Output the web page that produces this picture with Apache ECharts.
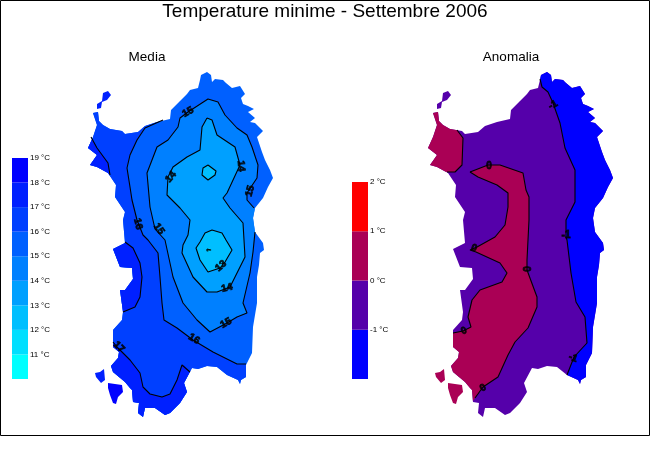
<!DOCTYPE html>
<html>
<head>
<meta charset="utf-8">
<script src="https://cdn.jsdelivr.net/npm/echarts@6/dist/echarts.min.js"></script>
<style>
html, body { margin: 0; padding: 0; background: #fff; }
#chart { width: 650px; height: 450px; }
</style>
</head>
<body>
<div id="chart"></div>
<script>
// legend classes
var tempLevels = [10, 11, 12, 13, 14, 15, 16, 17, 18, 19];
var tempColors = ['#00FFFF', '#00DFFF', '#00BFFF', '#00A0FF', '#0080FF', '#0060FF', '#0040FF', '#0020FF', '#0000FF'];
var anomLevels = [-2, -1, 0, 1, 2];
var anomColors = ['#0000FF', '#5500AA', '#AA0055', '#FF0000'];

// coast, map units
var coast = [[190,90],[198,88],[200,80],[201,75],[207,72],[211,75],[212,82],[215,79],[223,80],[226,83],[232,88],[240,86],[245,94],[241,98],[243,104],[248,106],[254,109],[248,112],[255,118],[250,122],[255,123],[263,131],[257,137],[262,152],[265,160],[270,170],[273,178],[268,187],[263,198],[255,208],[253,218],[255,232],[263,243],[264,250],[260,253],[259,265],[257,277],[257,303],[255,315],[253,327],[252,353],[246,365],[246,377],[241,380],[240,384],[238,380],[227,375],[217,367],[207,366],[198,369],[192,368],[184,383],[187,392],[180,403],[170,413],[165,415],[155,408],[145,408],[143,417],[138,413],[139,403],[133,402],[132,390],[130,388],[125,382],[113,372],[111,366],[118,358],[119,352],[113,347],[113,330],[122,320],[123,312],[120,290],[125,290],[133,279],[132,268],[120,267],[113,249],[125,243],[123,220],[125,212],[115,197],[116,185],[108,173],[97,167],[90,165],[97,155],[88,148],[93,137],[97,125],[93,113],[98,112],[99,121],[103,125],[110,129],[122,131],[125,134],[138,132],[145,126],[157,122],[170,119],[171,110],[180,101],[187,94]];
var asinara = [[103,93],[108,91],[111,95],[107,100],[102,102],[101,108],[97,109],[97,104],[102,101]];
var sanPietro = [[95,373],[100,372],[104,369],[105,380],[101,383],[96,377]];
var santAntioco = [[108,383],[122,385],[123,392],[118,397],[116,404],[113,403],[110,395],[108,388]];

// contours of the mean
var line16 = [[163,120],[145,128],[137,140],[130,155],[127,168],[130,187],[132,200],[137,220],[143,235],[148,240],[158,253],[160,277],[162,303],[164,320],[177,328],[193,340],[213,352],[237,364],[246,364]];
var line17nw = [[91,137],[97,148],[108,163],[110,175]];
var line17west = [[125,242],[133,248],[140,263],[142,277],[140,297],[135,307],[123,312]];
var line17south = [[113,342],[118,348],[130,360],[140,373],[143,387],[150,394],[162,397],[170,394],[177,380],[182,365],[184,365],[190,372]];
var line15 = [[254,208],[247,200],[247,193],[257,178],[258,165],[252,147],[247,135],[237,128],[225,115],[218,102],[208,99],[188,112],[180,118],[178,127],[168,140],[157,147],[147,173],[150,207],[155,229],[165,240],[173,277],[183,303],[197,320],[210,332],[227,323],[237,317],[247,313],[243,303],[250,273],[253,252],[255,232]];
var line14 = [[207,118],[212,120],[217,135],[235,147],[240,165],[227,193],[223,198],[230,208],[243,223],[244,240],[245,257],[230,287],[217,292],[207,292],[193,277],[182,253],[183,245],[188,235],[190,220],[180,208],[167,195],[168,177],[173,167],[187,157],[200,150],[202,127],[207,118]];
var line13north = [[208,165],[216,171],[215,175],[208,180],[202,175],[203,168],[208,165]];
var line13south = [[226,240],[232,250],[225,262],[220,268],[208,272],[200,260],[196,248],[200,242],[205,233],[212,230],[222,233],[226,240]];
var line12 = [[207,249],[209,248],[211,250],[209,252],[207,251],[207,249]];

// contours of the anomaly
var lineMinus1 = [[200,79],[202,87],[208,92],[213,103],[220,123],[225,148],[235,170],[235,202],[226,220],[226,237],[227,240],[231,273],[236,302],[245,317],[247,343],[234,357],[227,375]];
var line0nw = [[117,130],[123,138],[122,165],[115,172],[107,172]];
var line0east = [[130,172],[148,165],[160,165],[183,173],[186,190],[189,197],[189,220],[188,240],[187,260],[187,270],[197,297],[197,307],[188,328],[175,342],[168,355],[158,377],[143,387],[135,398]];
var line0west = [[130,172],[138,177],[157,185],[168,193],[168,207],[165,225],[155,237],[137,247],[130,250],[136,252],[160,263],[167,273],[162,282],[140,290],[132,300],[128,317],[131,327],[123,331],[113,333]];

// sea corners that close each band, the coast clips them
var seaWest16 = [[250,430],[60,430],[60,80],[150,80]];
var seaNw = [[100,185],[60,185],[60,130]];
var seaWest = [[90,320],[90,235]];
var seaSouth = [[200,440],[60,440],[60,342]];
var seaEast15 = [[262,220]];
var seaEast = [[240,420],[300,420],[300,60],[195,60]];
var seaNw0 = [[70,172],[70,100],[110,100]];
var seaSw0 = [[120,420],[60,420],[60,333]];

// contour labels
var mediaLabelText = ['15', '14', '14', '15', '16', '15', '13', '14', '15', '16', '17'];
var mediaLabelAt = [[188,112],[171,177],[241,166],[250,191],[138,224],[159,229],[221,266],[227,288],[226,323],[194,339],[119,347]];
var mediaLabelAngle = [30, 50, -85, 75, -75, -55, 40, 15, 30, -30, -45];
var anomLabelText = ['-1', '-1', '-1', '0', '0', '0', '0', '0'];
var anomLabelAt = [[213,105],[226,235],[233,358],[149,166],[134,248],[188,269],[124,331],[143,388]];
var anomLabelAngle = [30, 0, -20, 0, -20, 90, 20, 30];

function polySeries(axis, points, color, clip) {
    return {
        type: 'custom',
        xAxisIndex: axis,
        yAxisIndex: axis,
        silent: true,
        data: [[0, 0]],
        renderItem: function (params, api) {
            var el = {
                type: 'polygon',
                shape: { points: points.map(function (p) { return api.coord(p); }) },
                style: { fill: color }
            };
            if (clip) {
                el.clipPath = { type: 'polygon', shape: { points: clip.map(function (p) { return api.coord(p); }) } };
            }
            return el;
        }
    };
}

function lineSeries(axis, points) {
    return {
        type: 'line',
        xAxisIndex: axis,
        yAxisIndex: axis,
        silent: true,
        showSymbol: false,
        data: points,
        lineStyle: { color: '#000', width: 1.1 }
    };
}

function labelSeries(axis, at, text, angle) {
    return {
        type: 'scatter',
        xAxisIndex: axis,
        yAxisIndex: axis,
        silent: true,
        symbolSize: 1,
        itemStyle: { color: 'transparent' },
        z: 5,
        data: at.map(function (p, i) {
            return {
                value: p,
                label: {
                    show: true, position: 'inside', formatter: text[i], rotate: angle[i],
                    color: '#000', fontSize: 10, fontWeight: 'bold', fontFamily: 'Liberation Sans',
                    textBorderColor: '#000', textBorderWidth: 0.8
                }
            };
        })
    };
}

function bandSeries(axis, levels, colors) {
    return {
        type: 'custom',
        xAxisIndex: axis,
        yAxisIndex: axis,
        silent: true,
        data: colors.map(function (c, i) { return [levels[i], levels[i + 1]]; }),
        renderItem: function (params, api) {
            var a = api.coord([0, api.value(0)]);
            var b = api.coord([1, api.value(1)]);
            return {
                type: 'rect',
                shape: { x: a[0], y: b[1], width: b[0] - a[0], height: a[1] - b[1] },
                style: { fill: colors[params.dataIndex] }
            };
        }
    };
}

function mapAxisX(i) { return { gridIndex: i, type: 'value', min: 0, max: 310, show: false }; }
function mapAxisY(i) { return { gridIndex: i, type: 'value', min: 0, max: 450, inverse: true, show: false }; }
function bandAxisX(i) { return { gridIndex: i, type: 'value', min: 0, max: 1, show: false }; }
function bandAxisY(i, levels) {
    return {
        gridIndex: i, type: 'value', position: 'right',
        min: levels[0], max: levels[levels.length - 1], interval: 1,
        splitLine: { show: false }, axisLine: { show: false }, axisTick: { show: false },
        axisLabel: {
            margin: 2, fontSize: 8, color: '#000', fontFamily: 'Liberation Sans',
            formatter: function (v) { return v === levels[0] ? '' : v + ' °C'; }
        }
    };
}

var series = [
    // mean
    polySeries(0, coast, '#0060FF'),
    polySeries(0, asinara, '#0020FF'),
    polySeries(0, sanPietro, '#0020FF'),
    polySeries(0, santAntioco, '#0000FF'),
    polySeries(0, line16.concat(seaWest16), '#0040FF', coast),
    polySeries(0, line17nw.concat(seaNw), '#0020FF', coast),
    polySeries(0, line17west.concat(seaWest), '#0020FF', coast),
    polySeries(0, line17south.concat(seaSouth), '#0020FF', coast),
    polySeries(0, line15.concat(seaEast15), '#0080FF', coast),
    polySeries(0, line14, '#00A0FF'),
    polySeries(0, line13north, '#00BFFF'),
    polySeries(0, line13south, '#00BFFF'),
    polySeries(0, line12, '#00DFFF'),
    lineSeries(0, line16),
    lineSeries(0, line17nw),
    lineSeries(0, line17west),
    lineSeries(0, line17south),
    lineSeries(0, line15),
    lineSeries(0, line14),
    lineSeries(0, line13north),
    lineSeries(0, line13south),
    lineSeries(0, line12),
    labelSeries(0, mediaLabelAt, mediaLabelText, mediaLabelAngle),
    // anomaly
    polySeries(1, coast, '#5500AA'),
    polySeries(1, asinara, '#5500AA'),
    polySeries(1, sanPietro, '#AA0055'),
    polySeries(1, santAntioco, '#AA0055'),
    polySeries(1, lineMinus1.concat(seaEast), '#0000FF', coast),
    polySeries(1, line0nw.concat(seaNw0), '#AA0055', coast),
    polySeries(1, line0east.concat(seaSw0, line0west.slice().reverse()), '#AA0055', coast),
    lineSeries(1, lineMinus1),
    lineSeries(1, line0nw),
    lineSeries(1, line0east),
    lineSeries(1, line0west),
    labelSeries(1, anomLabelAt, anomLabelText, anomLabelAngle),
    // legends
    bandSeries(2, tempLevels, tempColors),
    bandSeries(3, anomLevels, anomColors)
];

var chart = echarts.init(document.getElementById('chart'), null, { renderer: 'canvas' });
chart.setOption({
    animation: false,
    backgroundColor: '#fff',
    title: [
        { text: 'Temperature minime - Settembre 2006', left: 325, top: 2, padding: 0, textAlign: 'center',
          textStyle: { fontSize: 19, fontWeight: 'normal', color: '#000', fontFamily: 'Liberation Sans' } },
        { text: 'Media', left: 147, top: 50, padding: 0, textAlign: 'center',
          textStyle: { fontSize: 13.5, fontWeight: 'normal', color: '#000', fontFamily: 'Liberation Sans' } },
        { text: 'Anomalia', left: 511, top: 50, padding: 0, textAlign: 'center',
          textStyle: { fontSize: 13.5, fontWeight: 'normal', color: '#000', fontFamily: 'Liberation Sans' } }
    ],
    graphic: [
        { type: 'rect', shape: { x: 0.5, y: 0.5, width: 649, height: 435 }, silent: true,
          style: { fill: 'none', stroke: '#000', lineWidth: 1 } }
    ],
    grid: [
        { left: 0, top: 0, width: 310, height: 450 },
        { left: 340, top: 0, width: 310, height: 450 },
        { left: 12, top: 158, width: 16, height: 221 },
        { left: 352, top: 182, width: 16, height: 197 }
    ],
    xAxis: [mapAxisX(0), mapAxisX(1), bandAxisX(2), bandAxisX(3)],
    yAxis: [mapAxisY(0), mapAxisY(1), bandAxisY(2, tempLevels), bandAxisY(3, anomLevels)],
    series: series
});
</script>
</body>
</html>
